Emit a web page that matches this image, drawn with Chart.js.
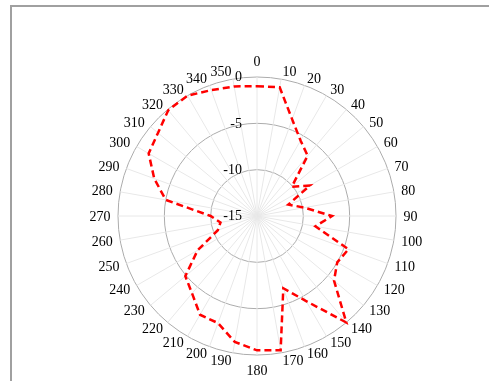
<!DOCTYPE html>
<html><head><meta charset="utf-8">
<script src="https://cdn.jsdelivr.net/npm/chart.js@4.4.0/dist/chart.umd.min.js"></script>
<style>
html,body{margin:0;padding:0;overflow:hidden;background:#fff;width:489px;height:381px;}
#frame{position:absolute;left:10px;top:5px;width:479px;height:376px;border-top:2px solid #a0a0a0;border-left:2px solid #a0a0a0;box-sizing:border-box;}
#c{position:absolute;left:0;top:0;}
</style></head><body>
<div id="frame"></div>
<canvas id="c" width="489" height="432"></canvas>
<script>
const angleLabels = ['0','10','20','30','40','50','60','70','80','90','100','110','120','130','140','150','160','170',
  '180','190','200','210','220','230','240','250','260','270','280','290','300','310','320','330','340','350'];
const patternValues = [-1.0,-0.9,-3.9,-5.6,-6.5,-10.1,-8.4,-11.4,-9.8,-6.9,-8.6,-4.5,-5.0,-4.15,0,-4.4,-6.7,-0.3,
  -0.5,-1.2,-2.7,-2.7,-4.1,-4.9,-7.6,-10.5,-11.0,-10.0,-5.0,-3.2,-1.5,-1.05,-0.1,0,-0.55,-0.8];
const radialTicks = [-15,-10,-5,0];

const serif = '"Liberation Serif","Times New Roman",serif';

const labelPlugin = {
  id: 'polarLabels',
  afterDraw(chart) {
    const s = chart.scales.r, ctx = chart.ctx;
    ctx.save();
    ctx.font = '14px ' + serif;
    ctx.fillStyle = '#000';
    // radial tick labels, right-aligned just left of the centre line
    ctx.textAlign = 'right';
    ctx.textBaseline = 'middle';
    radialTicks.forEach(v => {
      const d = s.getDistanceFromCenterForValue(v);
      ctx.fillText(String(v), s.xCenter - 15, s.yCenter - d + 0.5);
    });
    // angular labels
    const labels = chart.data.labels;
    const n = labels.length;
    labels.forEach((lab, i) => {
      const deg = Math.round(i * 360 / n);
      const p = s.getPointPosition(i, s.drawingArea + 7.4);
      let x = p.x, y = p.y + 1;
      if (deg === 0) { ctx.textAlign = 'center'; y -= 8; }
      else if (deg === 180) { ctx.textAlign = 'center'; y += 8; }
      else if (deg < 180) { ctx.textAlign = 'left'; }
      else { ctx.textAlign = 'right'; }
      ctx.fillText(lab, x, y);
    });
    ctx.restore();
  }
};

new Chart(document.getElementById('c'), {
  type: 'radar',
  data: {
    labels: angleLabels,
    datasets: [{
      data: patternValues,
      borderColor: '#ff0000',
      borderWidth: 2.5,
      borderDash: [7, 4],
      fill: false,
      pointRadius: 0,
      tension: 0
    }]
  },
  options: {
    responsive: false,
    animation: false,
    devicePixelRatio: 1,
    layout: { padding: { left: 118, right: 93, top: 0, bottom: 0 } },
    plugins: { legend: { display: false }, tooltip: { enabled: false } },
    scales: {
      r: {
        min: -15, max: 0,
        startAngle: 0,
        ticks: { stepSize: 5, display: false },
        grid: { color: '#acacac', lineWidth: 1, circular: true },
        angleLines: { color: '#e8e8e8', lineWidth: 1 },
        pointLabels: { display: false, font: { family: serif, size: 14 } }
      }
    }
  },
  plugins: [labelPlugin]
});
</script>
</body></html>
